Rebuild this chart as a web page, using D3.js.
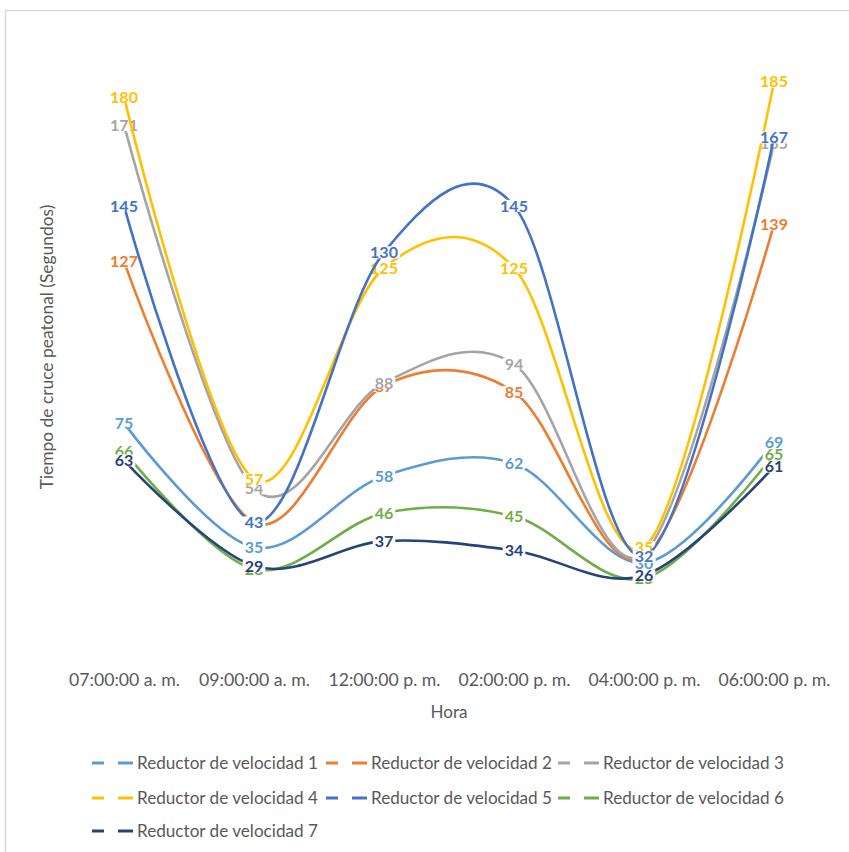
<!DOCTYPE html>
<html>
<head>
<meta charset="utf-8">
<script src="https://cdn.jsdelivr.net/npm/d3@7"></script>
<style>
  html, body { margin: 0; padding: 0; background: #ffffff; }
  svg { display: block; }
</style>
</head>
<body>
<svg id="chart" width="849" height="852"></svg>
<script>
// Crossing time per speed bump, by hour of the day
const categories = ["07:00:00 a. m.", "09:00:00 a. m.", "12:00:00 p. m.", "02:00:00 p. m.", "04:00:00 p. m.", "06:00:00 p. m."];
const seriesNames = [
  "Reductor de velocidad 1", "Reductor de velocidad 2", "Reductor de velocidad 3",
  "Reductor de velocidad 4", "Reductor de velocidad 5", "Reductor de velocidad 6",
  "Reductor de velocidad 7"
];
const reductor1 = [75, 35, 58, 62, 30, 69];
const reductor2 = [127, 43, 87, 85, 32, 139];
const reductor3 = [171, 54, 88, 94, 33, 165];
const reductor4 = [180, 57, 125, 125, 35, 185];
const reductor5 = [145, 43, 130, 145, 32, 167];
const reductor6 = [66, 28, 46, 45, 25, 65];
const reductor7 = [63, 29, 37, 34, 26, 61];
const seriesValues = [reductor1, reductor2, reductor3, reductor4, reductor5, reductor6, reductor7];
const seriesColors = ["#5B9BD5", "#ED7D31", "#A5A5A5", "#FFC000", "#4472C4", "#70AD47", "#264478"];

const yTitle = "Tiempo de cruce peatonal (Segundos)";
const xTitle = "Hora";

const svg = d3.select("#chart");
const textFont = "Lato, 'Open Sans', sans-serif";
const labelFont = "Lato, 'Open Sans', sans-serif";
const textColor = "#595959";

// scale a text's font size so its rendered width equals `target`
function fitSize(sel, target, base) {
  const w = sel.node().getComputedTextLength();
  return base * target / w;
}

// chart area frame
svg.append("rect")
  .attr("x", 5.5).attr("y", 10.5)
  .attr("width", 880).attr("height", 880)
  .attr("fill", "#ffffff")
  .attr("stroke", "#d9d9d9").attr("stroke-width", 1.5);

const plot = { left: 59, right: 839, top: 35, bottom: 656 };

const x = d3.scalePoint()
  .domain(categories)
  .range([plot.left, plot.right])
  .padding(0.5);

const y = d3.scaleLinear()
  .domain([0, 200])
  .range([plot.bottom, plot.top]);

// category axis (no line, no ticks)
const xAxis = svg.append("g")
  .attr("transform", `translate(0,${plot.bottom})`)
  .call(d3.axisBottom(x).tickSize(0).tickPadding(18));
xAxis.select(".domain").remove();
const tickTexts = xAxis.selectAll("text")
  .attr("font-family", textFont)
  .attr("font-size", 18)
  .attr("fill", textColor);
const tickSize = fitSize(d3.select(tickTexts.nodes()[0]), 111, 18);
tickTexts.attr("font-size", tickSize).attr("dy", "0.36em").attr("y", 24);

// axis titles
const xt = svg.append("text")
  .attr("x", (plot.left + plot.right) / 2)
  .attr("y", 712)
  .attr("dy", "0.36em")
  .attr("text-anchor", "middle")
  .attr("font-family", textFont)
  .attr("font-size", 18)
  .attr("fill", textColor)
  .text(xTitle);
xt.attr("font-size", fitSize(xt, 37, 18));

const yt = svg.append("text")
  .attr("transform", "translate(47,347) rotate(-90)")
  .attr("dy", "0.36em")
  .attr("text-anchor", "middle")
  .attr("font-family", textFont)
  .attr("font-size", 18)
  .attr("fill", textColor)
  .text(yTitle);
yt.attr("font-size", fitSize(yt, 285, 18));

// smoothed lines, each followed by its boxed value labels
const line = d3.line()
  .x((d, i) => x(categories[i]))
  .y(d => y(d))
  .curve(d3.curveCardinal.tension(0));

seriesValues.forEach((vals, s) => {
  const g = svg.append("g").attr("class", "series");
  g.append("path")
    .datum(vals)
    .attr("d", line)
    .attr("fill", "none")
    .attr("stroke", seriesColors[s])
    .attr("stroke-width", 2.6)
    .attr("stroke-linecap", "round");

  vals.forEach((v, i) => {
    const lg = g.append("g")
      .attr("transform", `translate(${x(categories[i])},${y(v)})`);
    const bg = lg.append("rect").attr("fill", "#ffffff");
    const t = lg.append("text")
      .attr("text-anchor", "middle")
      .attr("dy", "0.36em")
      .attr("font-family", labelFont)
      .attr("font-weight", 700)
      .attr("font-size", 16)
      .attr("fill", seriesColors[s])
      .text(v);
    const b = t.node().getBBox();
    bg.attr("x", b.x - 2).attr("y", -6)
      .attr("width", b.width + 4).attr("height", 12);
  });
});

// legend
const legendCols = [92, 326, 558];
const legendRows = [763, 798, 831];
let legendSize = null;
seriesNames.forEach((name, s) => {
  const lx = legendCols[s % 3];
  const ly = legendRows[Math.floor(s / 3)];
  const g = svg.append("g").attr("transform", `translate(${lx},${ly})`);
  [[0, 12], [26, 41]].forEach(([a, b]) => {
    g.append("line")
      .attr("x1", a).attr("x2", b)
      .attr("y1", 0).attr("y2", 0)
      .attr("stroke", seriesColors[s])
      .attr("stroke-width", 3);
  });
  const t = g.append("text")
    .attr("x", 45)
    .attr("dy", "0.36em")
    .attr("font-family", textFont)
    .attr("font-size", 18)
    .attr("fill", textColor)
    .text(name);
  if (legendSize === null) legendSize = fitSize(t, 181, 18);
  t.attr("font-size", legendSize);
});
</script>
</body>
</html>
